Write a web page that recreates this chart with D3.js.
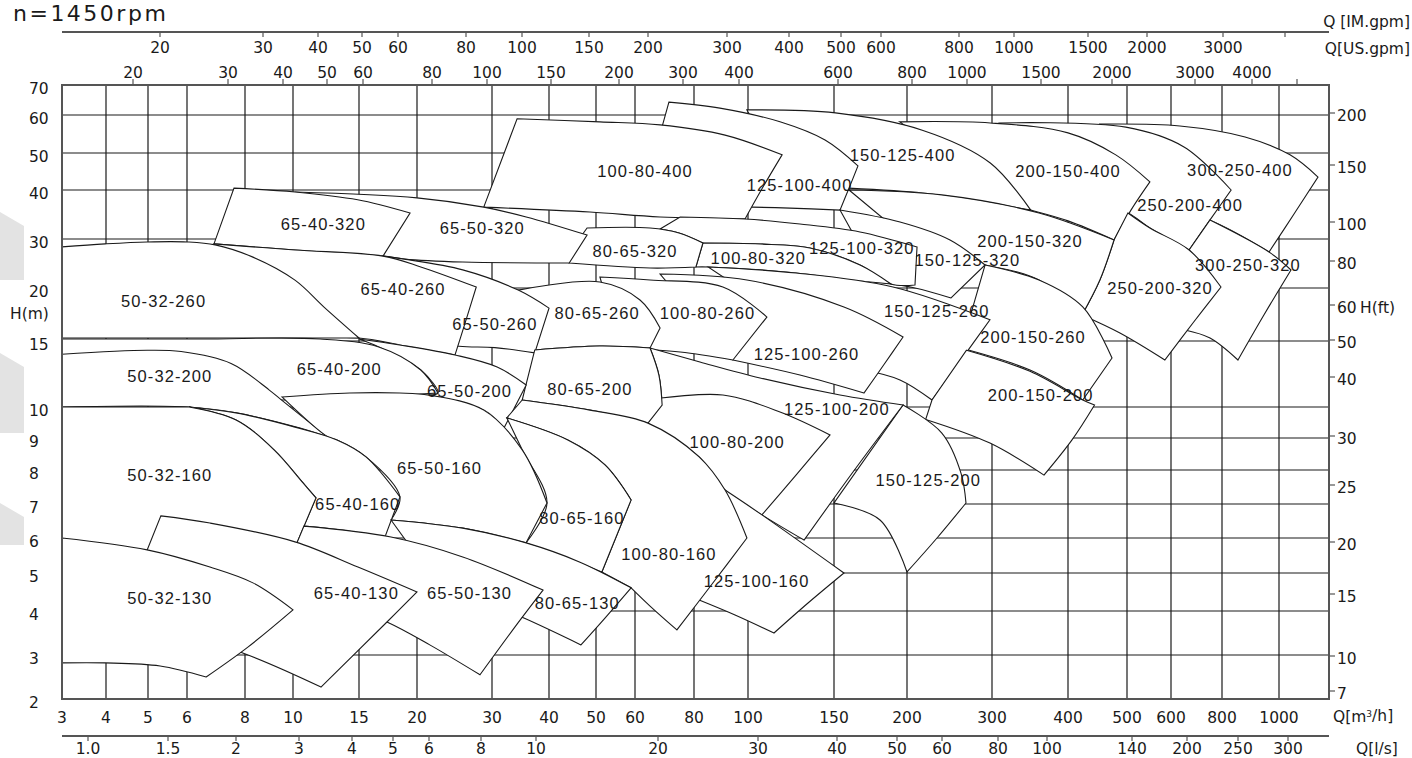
<!DOCTYPE html>
<html><head><meta charset="utf-8">
<script src="https://cdn.jsdelivr.net/npm/d3@7"></script>
<style>
html,body{margin:0;padding:0;background:#fff;}
svg{display:block;}
</style></head>
<body>
<svg id="chart" width="1412" height="758"></svg>
<script>
// ---------- axis values ----------
const qTicks  = [3,4,5,6,8,10,15,20,30,40,50,60,80,100,150,200,300,400,500,600,800,1000,1250];
const hTicks  = [2,3,4,5,6,7,8,9,10,15,20,30,40,50,60,70];
const ftTicks = [7,10,15,20,25,30,40,50,60,80,100,150,200];
const usTicks = [20,30,40,50,60,80,100,150,200,300,400,600,800,1000,1500,2000,3000,4000,5000];
const imTicks = [20,30,40,50,60,80,100,150,200,300,400,500,600,800,1000,1500,2000,3000,4000];
const lsTicks = [1,1.5,2,3,4,5,6,8,10,20,30,40,50,60,80,100,140,200,250,300];

// the printed axes are not evenly logarithmic: each tick sits at its own stop
const qStops  = [0,44,86,125,183,231,297,355,430,487,534,573,632,686,772,845,930,1006,1065,1109,1160,1217,1267];
const hStops  = [614,570,526,488,453,419,385,353,322,256,203,154,105,68,30,0];
const ftStops = [606,571,509,457,400,351,292,255,220,176,137,80,28];
const usStops = [71,166,221,265,301,370,425,489,557,621,677,776,850,905,979,1050,1133,1190,1235];
const imStops = [98,201,256,300,336,404,460,527,586,665,727,779,819,897,952,1026,1085,1161,1223];
const lsStops = [26,106,174,237,290,331,367,419,474,596,696,775,835,880,936,985,1070,1125,1176,1226];

// ---------- pump operating regions: [Q m3/h, H m] ----------
// each region is closed by its edges (top, right side, bottom, ...), listed back to front
const row400 = [
  {name:"300-250-400", label:[863,45.4], edges:[
    [[454,57.6],[635,57.1],[881,54.2],[1055,49.5],[1195,43.5]],
    [[1195,43.5],[1075,35.1],[965,27.35]],
    [[965,27.35],[749,33.9],[552,36.9]]]},
  {name:"250-200-400", label:[675,36.9], edges:[
    [[310,57.9],[498,56.8],[651,51.6],[832,40]],
    [[832,40],[753,33.9],[671,27.76]],
    [[671,27.76],[552,32.24],[502,35.3],[454,36.9]]]},
  {name:"200-150-400", label:[400,45.1], edges:[
    [[195,58.2],[298,57.9],[400,55.3],[481,49.5],[552,42.2]],
    [[552,42.2],[509,35.9],[478,29.8]],
    [[478,29.8],[400,33.7],[351,35.9],[298,38]],
    [[298,38],[251,48.1],[195,58.2]]]},
  {name:"150-125-400", label:[197,49.5], edges:[
    [[99.6,61.7],[151,60.7],[218,56],[298,47.3],[351,35.9]],
    [[351,35.9],[262,38.4],[218,39.4],[160,40.5]],
    [[160,40.5],[130,42.7],[99.6,61.7]]]},
  {name:"125-100-400", label:[130,41.35], edges:[
    [[71.5,64.3],[89.6,62.3],[118.6,58.2],[144.8,53.4],[166.4,46.5]],
    [[166.4,46.5],[160.3,40.5],[154.1,35.9]],
    [[154.1,35.9],[124.4,36.3],[102.3,36.5],[61.7,36.7]]]},
  {name:"100-80-400", label:[63.4,45.1], edges:[
    [[34.4,59],[51,58.2],[68.5,57.4],[91.5,54.7],[119.8,49.5]],
    [[119.8,49.5],[108.7,40.8],[98.9,34.1]],
    [[98.9,34.1],[68.5,34.5],[48.7,35.5],[28.9,36.5]]]}
];

const row320 = [
  {name:"300-250-320", label:[891,24.7], edges:[
    [[753,33.88],[965,27.35],[1060,23.67]],
    [[1060,23.67],[947,17.45],[856,13.56]],
    [[856,13.56],[753,15.28],[655,16.04]],
    [[655,16.04],[714,23.67],[671,27.76]],
    [[671,27.76],[753,33.88]]]},
  {name:"250-200-320", label:[575,20], edges:[
    [[502,35.3],[552,32.24],[671,27.76],[796,20.2]],
    [[796,20.2],[686,16.7],[586,13.56]],
    [[586,13.56],[488,15.75],[423.7,17.45]],
    [[423.7,17.45],[454,21.63],[478,29.8]],
    [[478,29.8],[502,35.3]]]},
  {name:"200-150-320", label:[350,29.6], edges:[
    [[160.3,40],[241,39],[361.8,35.3],[478,29.8]],
    [[478,29.8],[454,21.63],[423.7,17.45]],
    [[423.7,17.45],[361.8,21.63],[291.8,24.69],[226.5,26.33]]]},
  {name:"150-125-320", label:[271,25.7], edges:[
    [[154.1,35.92],[195.2,33.47],[250.6,29.8],[291.8,24.69]],
    [[291.8,24.69],[251.8,19.06]],
    [[251.8,19.06],[209.4,20],[181.5,21.2]]]},
  {name:"125-100-320", label:[169,28.2], edges:[
    [[75.3,34.49],[98.9,34.08],[130.2,33.06],[167.8,31.43],[211.8,28.37]],
    [[211.8,28.37],[209.4,20.61]],
    [[209.4,20.61],[189,20.82],[167.8,24.69],[136,28.16],[107,28.98],[83.3,29.18]],
    [[83.3,29.18],[74.9,31.22],[68.5,32.04]]]},
  {name:"100-80-320", label:[106,26.1], edges:[
    [[83.3,29.18],[107,28.98],[136,28.16],[167.8,24.69],[189,20.82]],
    [[189,20.82],[161,21.63],[127.9,23.06],[85.2,24.29],[80.7,24.29]],
    [[80.7,24.29],[83.3,29.18]]]},
  {name:"80-65-320", label:[60,27.6], edges:[
    [[48.1,32.24],[65.1,32.24],[74.9,31.22],[83.3,29.18]],
    [[83.3,29.18],[80.7,24.29]],
    [[80.7,24.29],[65.1,24.08],[44.26,25.1]],
    [[44.26,25.1],[45.5,28.78]]]},
  {name:"65-50-320", label:[28.7,32.2], edges:[
    [[10.15,39.6],[20,38.4],[28.9,36.5],[36,34.5],[48.1,30.8]],
    [[48.1,30.8],[44.3,25.1]],
    [[44.3,25.1],[26.1,25.3],[18.9,25.9],[17.07,26.5],[10.5,27.35]]]},
  {name:"65-40-320", label:[12.3,33], edges:[
    [[7.62,40.5],[10.15,39.6],[14.9,38],[19.4,35.3]],
    [[19.4,35.3],[17.07,26.5]],
    [[17.07,26.5],[10.15,27.76],[6.93,29]]]}
];

const row260 = [
  {name:"200-150-260", label:[354,15.4], edges:[
    [[291.8,24.69],[361.8,21.63],[425,18.21],[474.6,13.71]],
    [[474.6,13.71],[425,10.53]],
    [[425,10.53],[350,12.8],[263.5,14.47]]]},
  {name:"150-125-260", label:[235,17.8], edges:[
    [[85.2,24.29],[127.9,23.06],[190.4,20.2],[297.6,17.0]],
    [[297.6,17.0],[263.5,13.56],[229.4,10.53]],
    [[229.4,10.53],[195.2,12.05],[170.5,12.8]]]},
  {name:"125-100-260", label:[134,14], edges:[
    [[68.5,22.86],[99.6,21.63],[156.8,18.21],[197.3,15.38]],
    [[197.3,15.38],[184,13.18],[170.5,11.06]],
    [[170.5,11.06],[130.2,12.42],[94.4,13.56]]]},
  {name:"100-80-260", label:[85,17.6], edges:[
    [[51,22.24],[65.1,21.63],[90.7,20.2],[111,17.26]],
    [[111,17.26],[94.4,13.56]],
    [[94.4,13.56],[75.3,14.17],[56.2,14.47]]]},
  {name:"80-65-260", label:[50.3,17.6], edges:[
    [[34.6,19.8],[51,21.22],[61.7,18.87],[68.5,16.23]],
    [[68.5,16.23],[65.1,14.47]],
    [[65.1,14.47],[51,14.62],[37.5,14.32]]]},
  {name:"65-50-260", label:[30.5,16.6], edges:[
    [[17.07,26.5],[18.88,25.9],[26.1,23.7],[34.6,19.8],[40,18.1]],
    [[40,18.1],[37.5,14.1]],
    [[37.5,14.1],[30.5,14.5],[25.6,14.6],[20.4,15.1]]]},
  {name:"65-40-260", label:[18.8,19.9], edges:[
    [[6.93,29],[10.15,27.76],[17.07,26.5],[20.5,24.3],[27.9,20.2]],
    [[27.9,20.2],[26.5,16.9],[25.07,13.94]],
    [[25.07,13.94],[18.5,14.7],[15,15.28],[8.2,15.28]]]},
  {name:"50-32-260", label:[5.4,18.8], edges:[
    [[3,28.4],[3.98,29],[4.98,29.4],[6,29.4],[6.97,28.8],[8.33,26.3],[10.15,21.6],[12.35,18.2],[15,15.28]],
    [[15,15.28],[3,15.28]]]}
];

const row200 = [
  {name:"200-150-200", label:[364,10.9], edges:[
    [[270,14.3],[350,12.7],[425,10.53],[445,10.15]],
    [[445,10.15],[406.8,8.94],[368.4,7.85]],
    [[368.4,7.85],[297.6,8.84],[222,9.6]],
    [[222,9.6],[229.4,10.53]],
    [[229.4,10.53],[270,14.3]]]},
  {name:"150-125-200", label:[225,7.7], edges:[
    [[197.3,10.15],[241,9.16],[263.5,7.91],[269.4,7.03]],
    [[269.4,7.03],[235.3,6],[200,5.03]],
    [[200,5.03],[181.5,6.53],[150,7.03]]]},
  {name:"125-100-200", label:[152,9.94], edges:[
    [[65.1,14.47],[82.2,13.41],[107,12.2],[154.1,10.91],[197.3,10.15]],
    [[197.3,10.15],[163,7.94],[132.6,5.94]],
    [[132.6,5.94],[108.1,6.68],[91.5,7.41]],
    [[91.5,7.41],[75.3,9.26],[69.2,10.15]],
    [[69.2,10.15],[68.1,12.42],[65.1,14.47]]]},
  {name:"100-80-200", label:[96,8.88], edges:[
    [[68.8,10.68],[90.7,10.91],[118.6,9.84],[147.7,9.1]],
    [[147.7,9.1],[127.9,7.85],[108.1,6.68]],
    [[108.1,6.68],[91.5,7.41],[81.9,8.41],[64.4,9.48]],
    [[64.4,9.48],[68.8,10.68]]]},
  {name:"80-65-200", label:[48.7,11.36], edges:[
    [[37.5,14.32],[51,14.62],[65.1,14.47]],
    [[65.1,14.47],[68.1,12.42],[69.2,10.15]],
    [[69.2,10.15],[64.4,9.48]],
    [[64.4,9.48],[48.7,9.9],[35.3,10.53]],
    [[35.3,10.53],[35.96,11.67]],
    [[35.96,11.67],[37.5,14.32]]]},
  {name:"65-50-200", label:[27,11.2], edges:[
    [[15,15.19],[18.5,14.7],[25.07,13.94],[30.9,13.03],[36,11.67]],
    [[36,11.67],[32.1,9.32]],
    [[32.1,9.32],[28.9,9.9],[21.6,10.9]],
    [[21.6,10.9],[22.8,11.06],[20.5,12.8],[16.7,14.55],[15,15.19]]]},
  {name:"65-40-200", label:[13.5,12.9], edges:[
    [[3,15.19],[6.45,15.19],[12.05,15.19],[16.7,14.55],[20.5,12.8],[22.8,11.06]],
    [[22.8,11.06],[18.5,10.9],[9.54,10.53],[5.05,10.53],[3,10.53]]]},
  {name:"50-32-200", label:[5.56,12.35], edges:[
    [[3,14],[4.98,14.3],[5.85,14.2],[7.52,13.3],[9,11.3],[9.54,10.5],[12.65,9.03]],
    [[12.65,9.03],[10.53,9.32],[7.69,9.81],[6.07,10],[3,10]]]}
];

const row160 = [
  {name:"125-100-160", label:[105,4.79], edges:[
    [[91.5,7.41],[108.1,6.68],[156.8,5.0]],
    [[156.8,5.0],[134.9,4.21],[115.1,3.5]],
    [[115.1,3.5],[95.2,3.91],[81.9,4.29]],
    [[81.9,4.29],[82.2,5.37]]]},
  {name:"100-80-160", label:[71.5,5.54], edges:[
    [[35.3,10.53],[48.7,9.9],[64.4,9.48],[81.9,8.41],[91.5,7.41],[99.6,6]],
    [[99.6,6],[86.7,4.71],[74.2,3.57]],
    [[74.2,3.57],[65.1,4.13],[59,4.61]],
    [[59,4.61],[51.5,5.03]],
    [[51.5,5.03],[59,7.12]],
    [[59,7.12],[52.3,8.16],[44,8.94],[32.6,9.65]],
    [[32.6,9.65],[35.3,10.53]]]},
  {name:"80-65-160", label:[47,6.6], edges:[
    [[32.6,9.65],[44,8.94],[52.3,8.16],[59,7.12]],
    [[59,7.12],[51.5,5.03]],
    [[51.5,5.03],[42.3,5.51],[35.96,5.86]],
    [[35.96,5.86],[39.65,7.03],[35.3,8.63],[32.6,9.65]]]},
  {name:"65-50-160", label:[23,8.06], edges:[
    [[9.54,10.76],[14.3,11.06],[18.5,11.06],[21.6,10.9],[28.9,9.9],[35.3,8.63],[39.65,7.03]],
    [[39.65,7.03],[35.96,5.86]],
    [[35.96,5.86],[26.1,6.29],[17.76,6.53]],
    [[17.76,6.53],[18.53,7.21],[15.6,8.41],[13.33,8.94],[12.65,9.03],[9.54,10.76]]]},
  {name:"65-40-160", label:[14.9,7.0], edges:[
    [[6.07,10],[7.69,9.81],[10.15,9.35],[13.33,8.94],[15.6,8.41],[18.53,7.21]],
    [[18.53,7.21],[17.24,6.03]],
    [[17.24,6.03],[13.56,6.24],[10.83,6.35]],
    [[10.83,6.35],[11.74,7.18]],
    [[11.74,7.18],[10.76,7.62],[9.21,8.63],[7.69,9.58],[6.07,10]]]},
  {name:"50-32-160", label:[5.56,7.85], edges:[
    [[3,10],[4.33,10],[6.07,10]],
    [[6.07,10],[7.69,9.58],[9.21,8.63],[10.76,7.62],[11.74,7.18]],
    [[11.74,7.18],[10.3,5.86]],
    [[10.3,5.86],[5.44,6.38]],
    [[5.44,6.38],[4.98,5.57]],
    [[4.98,5.57],[3,5.75]]]}
];

const row130 = [
  {name:"80-65-130", label:[46,4.2], edges:[
    [[17.76,6.53],[26.1,6.29],[36,5.86],[46.6,5.31],[59,4.61]],
    [[59,4.61],[52.3,3.84],[46.8,3.23]],
    [[46.8,3.23],[35.6,3.84],[28.4,4.29],[20.4,5.37]]]},
  {name:"65-50-130", label:[27,4.47], edges:[
    [[10.83,6.35],[17.76,6.03],[26.1,5.46],[38.95,4.55]],
    [[38.95,4.55],[34.56,3.73],[28.4,2.55]],
    [[28.4,2.55],[21.7,3.23],[17.41,3.75],[12.8,4.29]],
    [[12.8,4.29],[10.3,5.86]]]},
  {name:"65-40-130", label:[14.8,4.47], edges:[
    [[5.33,6.65],[6.79,6.44],[10.15,5.89],[14.92,5.17],[20,4.5]],
    [[20,4.5],[17.41,3.75],[12.12,2.27]],
    [[12.12,2.27],[7.9,3.05],[4.36,3.91]]]},
  {name:"50-32-130", label:[5.56,4.34], edges:[
    [[3,6],[4.98,5.66],[6.79,5.17],[8.33,4.74],[10,4.03]],
    [[10,4.03],[8.12,3.18],[6.66,2.5]],
    [[6.66,2.5],[5.31,2.75],[3.98,2.82],[3,2.82]]]}
];

// ---------- layout ----------
const plot = {left:62, top:85, right:1329, bottom:699};
const svg = d3.select("#chart");
const numFont = "DejaVu Sans, Verdana, sans-serif";
const ink = "#1a1a1a";

const x   = d3.scaleLinear().domain(qTicks).range(qStops.map(s => plot.left + s));
const y   = d3.scaleLinear().domain(hTicks).range(hStops.map(s => plot.top + s));
const yFt = d3.scaleLinear().domain(ftTicks).range(ftStops.map(s => plot.top + s));
const xUs = d3.scaleLinear().domain(usTicks).range(usStops.map(s => plot.left + s));
const xIm = d3.scaleLinear().domain(imTicks).range(imStops.map(s => plot.left + s));
const xLs = d3.scaleLinear().domain(lsTicks).range(lsStops.map(s => plot.left + s));

// ---------- faint logo marks in the left margin ----------
const gLogo = svg.append("g").attr("fill", "#e3e3e3");
[[212, 280], [353, 433], [503, 545]].forEach(([t, b]) => {
  gLogo.append("path").attr("d", `M0,${t}L24,${t + 14}L24,${b}L0,${b}Z`);
});

// ---------- grid ----------
const grid = svg.append("g").attr("stroke", ink).attr("stroke-width", 1.2);
grid.selectAll("line.v").data(qTicks.slice(1, -1)).join("line")
  .attr("x1", d => x(d)).attr("x2", d => x(d))
  .attr("y1", y(70)).attr("y2", y(2));
grid.selectAll("line.h").data(hTicks.slice(1, -1)).join("line")
  .attr("x1", x(3)).attr("x2", x(1250))
  .attr("y1", d => y(d)).attr("y2", d => y(d));

// ---------- pump regions ----------
const edgeLine = d3.line().x(d => x(d[0])).y(d => y(d[1])).curve(d3.curveCatmullRom.alpha(0.5));
function regionPath(edges) {
  return edges.map((e, i) => i === 0 ? edgeLine(e) : "L" + edgeLine(e).slice(1)).join("") + "Z";
}
const regions = [row400, row320, row260, row200, row160, row130];
const gRegions = svg.append("g");
regions.forEach(row => {
  row.forEach(r => {
    gRegions.append("path").attr("d", regionPath(r.edges))
      .attr("fill", "#fff").attr("stroke", ink).attr("stroke-width", 1.1)
      .attr("stroke-linejoin", "miter");
  });
});

// ---------- frame ----------
svg.append("rect").attr("x", plot.left).attr("y", plot.top)
  .attr("width", plot.right - plot.left).attr("height", plot.bottom - plot.top)
  .attr("fill", "none").attr("stroke", "#555").attr("stroke-width", 2);

// ---------- region labels ----------
const gLabels = svg.append("g").attr("font-family", "Liberation Sans, Arial, sans-serif")
  .attr("font-size", 16.5).attr("letter-spacing", 1.1).attr("fill", ink).attr("text-anchor", "middle");
regions.flat().forEach(r => {
  gLabels.append("text").attr("x", x(r.label[0])).attr("y", y(r.label[1])).attr("dy", "0.36em").text(r.name);
});

// ---------- axes ----------
const txt = svg.append("g").attr("font-family", numFont).attr("font-size", 15.5).attr("fill", ink);

// left H(m)
txt.selectAll("text.hl").data(hTicks).join("text")
  .attr("x", 29).attr("y", d => y(d) + 3).attr("dy", "0.36em").text(d => d);
txt.append("text").attr("x", 10).attr("y", y(17.6)).attr("dy", "0.36em").text("H(m)");

// right H(ft)
const gFt = svg.append("g");
gFt.selectAll("line").data(ftTicks).join("line")
  .attr("x1", plot.right).attr("x2", plot.right + 6)
  .attr("y1", d => yFt(d)).attr("y2", d => yFt(d)).attr("stroke", "#555").attr("stroke-width", 1.2);
txt.selectAll("text.ft").data(ftTicks).join("text")
  .attr("x", plot.right + 8).attr("y", d => yFt(d) + 2).attr("dy", "0.36em").text(d => d);
txt.append("text").attr("x", 1360).attr("y", yFt(60) + 2).attr("dy", "0.36em").text("H(ft)");

// bottom Q m3/h
txt.selectAll("text.q").data(qTicks.slice(0, -1)).join("text")
  .attr("x", d => x(d)).attr("y", 717).attr("dy", "0.36em").attr("text-anchor", "middle").text(d => d);
const qTitle = txt.append("text").attr("x", 1333).attr("y", 716).attr("dy", "0.36em");
qTitle.append("tspan").text("Q[m");
qTitle.append("tspan").attr("font-size", 9).attr("dy", "-0.55em").text("3");
qTitle.append("tspan").attr("dy", "0.28em").text("/h]");

// bottom Q l/s
const gLs = svg.append("g").attr("stroke", "#555").attr("stroke-width", 2);
gLs.append("line").attr("x1", plot.left).attr("x2", plot.right).attr("y1", 736).attr("y2", 736);
gLs.selectAll("line.t").data(lsTicks).join("line")
  .attr("x1", d => xLs(d)).attr("x2", d => xLs(d)).attr("y1", 736).attr("y2", 741).attr("stroke-width", 1.2);
txt.selectAll("text.ls").data(lsTicks).join("text")
  .attr("x", d => xLs(d)).attr("y", 748.5).attr("dy", "0.36em").attr("text-anchor", "middle")
  .text(d => d === 1 ? "1.0" : d);
txt.append("text").attr("x", 1356).attr("y", 748.5).attr("dy", "0.36em").text("Q[l/s]");

// top Q IM.gpm
const gIm = svg.append("g").attr("stroke", "#555").attr("stroke-width", 2);
gIm.append("line").attr("x1", plot.left).attr("x2", plot.right).attr("y1", 32).attr("y2", 32);
gIm.selectAll("line.t").data(imTicks).join("line")
  .attr("x1", d => xIm(d)).attr("x2", d => xIm(d)).attr("y1", 32).attr("y2", 37).attr("stroke-width", 1.2);
txt.selectAll("text.im").data(imTicks.slice(0, -1)).join("text")
  .attr("x", d => xIm(d)).attr("y", 47.5).attr("dy", "0.36em").attr("text-anchor", "middle").text(d => d);
txt.append("text").attr("x", 1410).attr("y", 21).attr("dy", "0.36em").attr("text-anchor", "end").text("Q [IM.gpm]");

// top Q US.gpm
const gUs = svg.append("g").attr("stroke", "#555").attr("stroke-width", 1.2);
gUs.selectAll("line").data(usTicks).join("line")
  .attr("x1", d => xUs(d)).attr("x2", d => xUs(d)).attr("y1", plot.top - 6).attr("y2", plot.top);
txt.selectAll("text.us").data(usTicks.slice(0, -1)).join("text")
  .attr("x", d => xUs(d)).attr("y", 72.5).attr("dy", "0.36em").attr("text-anchor", "middle").text(d => d);
txt.append("text").attr("x", 1410).attr("y", 48).attr("dy", "0.36em").attr("text-anchor", "end").text("Q[US.gpm]");

// speed
svg.append("text").attr("x", 13).attr("y", 21).attr("font-family", numFont)
  .attr("font-size", 22).attr("letter-spacing", 2.5).attr("fill", ink).text("n=1450rpm");
</script>
</body></html>
